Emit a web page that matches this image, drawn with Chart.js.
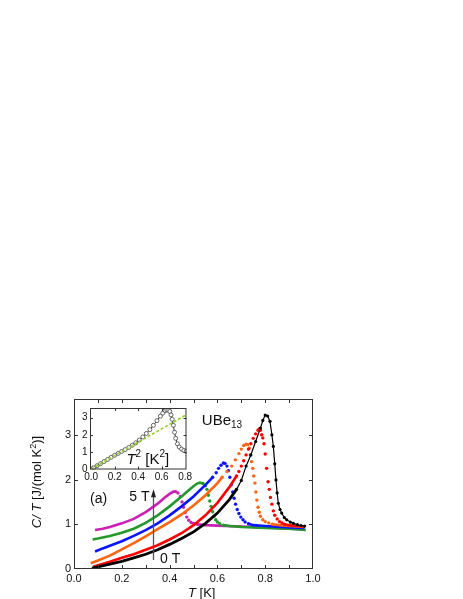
<!DOCTYPE html>
<html>
<head>
<meta charset="utf-8">
<script src="https://cdn.jsdelivr.net/npm/chart.js@4.4.0/dist/chart.umd.min.js"></script>
<style>
  html, body { margin: 0; padding: 0; background: #fff; }
  #wrap { position: relative; width: 463px; height: 599px; }
  #mainChart { position: absolute; left: 0; top: 0; }
  #insetChart { position: absolute; left: 60px; top: 398px; }
</style>
</head>
<body>
<div id="wrap">
  <canvas id="mainChart" width="463" height="599"></canvas>
  <canvas id="insetChart" width="140" height="95"></canvas>
</div>
<script>
// UBe13, C/T vs T for fields 0 T (black) ... 5 T (magenta)
var blackT = [0.075,0.1,0.15,0.2,0.25,0.3,0.35,0.4,0.45,0.5,0.55,0.6,0.65,0.68,0.7,0.72,0.74,0.76,0.78,0.79,0.8,0.81,0.82,0.828,0.834,0.84,0.845,0.85,0.855,0.862,0.869,0.88,0.89,0.905,0.918,0.935,0.95,0.965];
var blackC = [0.02,0.05,0.11,0.17,0.25,0.33,0.43,0.55,0.68,0.83,1.02,1.25,1.55,1.78,1.98,2.3,2.55,2.85,3.15,3.32,3.44,3.42,3.3,3.0,2.74,2.35,1.99,1.7,1.47,1.33,1.25,1.15,1.1,1.05,1.02,0.99,0.97,0.96];

var redT = [0.08,0.15,0.2,0.25,0.3,0.35,0.4,0.45,0.5,0.55,0.6,0.65,0.68,0.69,0.7,0.71,0.72,0.73,0.74,0.75,0.76,0.77,0.775,0.78,0.785,0.79,0.795,0.8,0.806,0.812,0.817,0.822,0.828,0.834,0.84,0.85,0.86,0.87,0.88,0.9,0.93,0.965];
var redC = [0.05,0.16,0.25,0.33,0.43,0.53,0.66,0.8,0.98,1.2,1.48,1.83,2.08,2.18,2.3,2.42,2.55,2.68,2.8,2.92,3.02,3.1,3.13,3.1,3.0,2.93,2.8,2.57,2.25,1.95,1.78,1.6,1.45,1.3,1.2,1.12,1.06,1.03,1.0,0.98,0.96,0.95];

var orangeT = [0.07,0.1,0.15,0.2,0.25,0.3,0.35,0.4,0.45,0.5,0.55,0.6,0.62,0.64,0.66,0.675,0.69,0.7,0.71,0.72,0.727,0.733,0.738,0.743,0.748,0.752,0.757,0.761,0.765,0.77,0.775,0.78,0.79,0.8,0.815,0.83,0.86,0.9,0.965];
var orangeC = [0.13,0.19,0.3,0.44,0.58,0.73,0.89,1.05,1.22,1.42,1.65,1.92,2.05,2.18,2.3,2.44,2.58,2.68,2.76,2.79,2.78,2.7,2.55,2.4,2.25,2.08,1.92,1.72,1.54,1.38,1.27,1.18,1.1,1.06,1.03,1.0,0.98,0.96,0.94];

var blueT = [0.088,0.12,0.15,0.2,0.25,0.3,0.35,0.4,0.45,0.5,0.55,0.58,0.595,0.605,0.615,0.625,0.632,0.64,0.646,0.652,0.658,0.664,0.67,0.676,0.683,0.69,0.698,0.707,0.716,0.73,0.75,0.8,0.9,0.965];
var blueC = [0.39,0.46,0.52,0.62,0.74,0.87,1.02,1.2,1.4,1.62,1.88,2.05,2.15,2.25,2.32,2.37,2.36,2.3,2.2,2.05,1.88,1.72,1.58,1.45,1.33,1.24,1.16,1.1,1.05,1.01,0.98,0.96,0.93,0.92];

var greenT = [0.078,0.1,0.15,0.2,0.25,0.3,0.35,0.4,0.45,0.48,0.5,0.515,0.527,0.54,0.55,0.556,0.562,0.568,0.574,0.58,0.586,0.593,0.6,0.61,0.625,0.65,0.7,0.8,0.9,0.97];
var greenC = [0.66,0.68,0.74,0.81,0.9,1.03,1.2,1.4,1.62,1.76,1.85,1.91,1.93,1.91,1.86,1.78,1.65,1.52,1.4,1.28,1.18,1.1,1.05,1.01,0.98,0.96,0.94,0.92,0.9,0.87];

var magentaT = [0.088,0.12,0.15,0.2,0.25,0.3,0.35,0.38,0.4,0.415,0.425,0.435,0.445,0.452,0.458,0.465,0.472,0.48,0.49,0.5,0.515,0.55,0.6,0.7,0.8,0.9,0.96];
var magentaC = [0.87,0.9,0.94,1.02,1.12,1.27,1.46,1.6,1.68,1.73,1.73,1.7,1.62,1.5,1.38,1.26,1.16,1.09,1.04,1.02,1.0,0.98,0.97,0.95,0.93,0.9,0.89];

// inset: C/T vs T^2 at 0 T, with the dashed linear fit
var insetT2 = [0.005,0.02,0.05,0.08,0.11,0.14,0.17,0.2,0.23,0.26,0.29,0.32,0.35,0.38,0.41,0.44,0.47,0.5,0.53,0.56,0.59,0.61,0.63,0.645,0.66,0.67,0.68,0.69,0.7,0.71,0.72,0.735,0.75,0.77,0.79,0.81];
var insetC = [0.03,0.1,0.22,0.34,0.46,0.58,0.7,0.82,0.93,1.04,1.15,1.27,1.4,1.54,1.7,1.88,2.08,2.3,2.55,2.82,3.08,3.25,3.4,3.44,3.42,3.35,3.15,2.9,2.55,2.15,1.8,1.48,1.3,1.18,1.1,1.05];
var fitT2 = [0, 0.8];
var fitC = [0.03, 3.12];

var xTicks = [0, 0.2, 0.4, 0.6, 0.8, 1.0];
var yTicks = [0, 1, 2, 3];
var insetXTicks = [0, 0.2, 0.4, 0.6, 0.8];
var insetYTicks = [0, 1, 2, 3];

var FONT = "'Liberation Sans', Arial, sans-serif";

function pts(xs, ys) {
  return xs.map(function (x, i) { return { x: x, y: ys[i] }; });
}

// line where the sweep is dense, bare dots through the transition
function series(ts, cs, color, dotFrom, dotTo, order) {
  return {
    data: pts(ts, cs),
    showLine: true,
    borderColor: color,
    backgroundColor: color,
    borderWidth: 2.6,
    pointBorderWidth: 0,
    pointRadius: function (c) {
      var x = c.parsed ? c.parsed.x : -1;
      return x >= dotFrom && x <= dotTo ? 1.7 : 0;
    },
    segment: {
      borderColor: function (c) {
        return c.p0.parsed.x >= dotFrom && c.p1.parsed.x <= dotTo ? 'rgba(0,0,0,0)' : color;
      }
    },
    order: order
  };
}

function rich(ctx, parts, x, y, align) {
  var w = 0;
  parts.forEach(function (p) { ctx.font = p.font; p.w = ctx.measureText(p.text).width; w += p.w; });
  var cx = align === 'center' ? x - w / 2 : (align === 'right' ? x - w : x);
  ctx.textAlign = 'left';
  parts.forEach(function (p) {
    ctx.font = p.font;
    ctx.fillText(p.text, cx, y + (p.dy || 0));
    cx += p.w;
  });
}

function f(size, italic) { return (italic ? 'italic ' : '') + size + 'px ' + FONT; }

// box and inward tick marks
var framePlugin = {
  id: 'frame',
  afterDatasetsDraw: function (chart, args, o) {
    var ctx = chart.ctx, a = chart.chartArea, xs = chart.scales.x, ys = chart.scales.y;
    ctx.save();
    ctx.strokeStyle = o.color;
    ctx.lineWidth = 1;
    ctx.strokeRect(a.left + 0.5, a.top + 0.5, a.right - a.left - 1, a.bottom - a.top - 1);
    ctx.beginPath();
    o.xMarks.forEach(function (v) {
      var px = Math.round(xs.getPixelForValue(v)) + 0.5;
      ctx.moveTo(px, a.bottom); ctx.lineTo(px, a.bottom - o.len);
      ctx.moveTo(px, a.top); ctx.lineTo(px, a.top + o.len);
    });
    o.yMarks.forEach(function (v) {
      var py = Math.round(ys.getPixelForValue(v)) + 0.5;
      ctx.moveTo(a.left, py); ctx.lineTo(a.left + o.len, py);
      ctx.moveTo(a.right, py); ctx.lineTo(a.right - o.len, py);
    });
    ctx.stroke();
    ctx.restore();
  }
};

var mainText = {
  id: 'mainText',
  afterDraw: function (chart) {
    var ctx = chart.ctx, a = chart.chartArea, xs = chart.scales.x, ys = chart.scales.y;
    ctx.save();
    ctx.fillStyle = '#111';
    ctx.textBaseline = 'alphabetic';
    // axis titles
    rich(ctx, [{ text: 'T', font: f(13, true) }, { text: ' [K]', font: f(13) }], 188, 597, 'left');
    ctx.save();
    ctx.translate(41, (a.top + a.bottom) / 2 - 2);
    ctx.rotate(-Math.PI / 2);
    rich(ctx, [
      { text: 'C/ T', font: f(13, true) },
      { text: ' [J/(mol K', font: f(13) },
      { text: '2', font: f(9), dy: -5 },
      { text: ')]', font: f(13) }
    ], 0, 0, 'center');
    ctx.restore();
    // annotations
    rich(ctx, [{ text: 'UBe', font: f(15) }, { text: '13', font: f(10), dy: 3 }],
      xs.getPixelForValue(0.535), ys.getPixelForValue(3.22), 'left');
    rich(ctx, [{ text: '(a)', font: f(14) }], xs.getPixelForValue(0.067), ys.getPixelForValue(1.48), 'left');
    rich(ctx, [{ text: '5 T', font: f(14) }], xs.getPixelForValue(0.316), ys.getPixelForValue(1.51), 'right');
    rich(ctx, [{ text: '0 T', font: f(14) }], xs.getPixelForValue(0.36), ys.getPixelForValue(0.13), 'left');
    // field arrow
    var ax = Math.round(xs.getPixelForValue(0.332)) + 0.5;
    var ay0 = ys.getPixelForValue(0.2), ay1 = ys.getPixelForValue(1.78);
    ctx.strokeStyle = '#555';
    ctx.lineWidth = 1.3;
    ctx.beginPath(); ctx.moveTo(ax, ay0); ctx.lineTo(ax, ay1 + 5); ctx.stroke();
    ctx.fillStyle = '#222';
    ctx.beginPath(); ctx.moveTo(ax, ay1); ctx.lineTo(ax - 2.5, ay1 + 8); ctx.lineTo(ax + 2.5, ay1 + 8); ctx.closePath(); ctx.fill();
    ctx.restore();
  }
};

var black = {
  data: pts(blackT, blackC),
  showLine: true,
  borderColor: '#000',
  backgroundColor: '#000',
  pointBorderWidth: 0,
  pointRadius: function (c) { var x = c.parsed ? c.parsed.x : 0; return x >= 0.68 ? 1.6 : 0; },
  segment: { borderWidth: function (c) { return c.p0.parsed.x < 0.68 ? 2.8 : 1.2; } },
  order: 0
};

new Chart(document.getElementById('mainChart'), {
  type: 'scatter',
  data: {
    datasets: [
      black,
      series(redT, redC, '#ff0000', 0.68, 0.88, 1),
      series(orangeT, orangeC, '#ff6410', 0.62, 0.83, 2),
      series(blueT, blueC, '#0a14ff', 0.58, 0.73, 3),
      series(greenT, greenC, '#22992a', 0.54, 0.625, 4),
      series(magentaT, magentaC, '#cc1fb8', 0.425, 0.515, 5)
    ]
  },
  options: {
    responsive: false,
    animation: false,
    devicePixelRatio: 1,
    layout: { padding: { left: 0, top: 399, right: 150, bottom: 0 } },
    plugins: {
      legend: { display: false },
      tooltip: { enabled: false },
      frame: { color: '#333', len: 4, xMarks: [0.1, 0.2, 0.3, 0.4, 0.5, 0.6, 0.7, 0.8, 0.9], yMarks: [1, 2, 3] }
    },
    scales: {
      x: {
        type: 'linear', min: 0, max: 1,
        grid: { display: false, drawTicks: false },
        border: { display: false },
        afterFit: function (s) { s.height = 30; },
        afterBuildTicks: function (s) { s.ticks = xTicks.map(function (v) { return { value: v }; }); },
        ticks: { padding: 3, color: '#111', autoSkip: false, maxRotation: 0, font: { family: FONT, size: 11 },
          callback: function (v) { return v.toFixed(1); } }
      },
      y: {
        type: 'linear', min: 0, max: 3.8,
        grid: { display: false, drawTicks: false },
        border: { display: false },
        afterFit: function (s) { s.width = 74; },
        afterBuildTicks: function (s) { s.ticks = yTicks.map(function (v) { return { value: v }; }); },
        ticks: { padding: 3, color: '#111', font: { family: FONT, size: 11 },
          callback: function (v) { return String(v); } }
      }
    }
  },
  plugins: [framePlugin, mainText]
});

var insetText = {
  id: 'insetText',
  afterDraw: function (chart) {
    var ctx = chart.ctx, xs = chart.scales.x, ys = chart.scales.y;
    ctx.save();
    ctx.fillStyle = '#111';
    ctx.textBaseline = 'alphabetic';
    rich(ctx, [
      { text: 'T', font: f(15, true) },
      { text: '2', font: f(10), dy: -7 },
      { text: ' [K', font: f(15) },
      { text: '2', font: f(10), dy: -7 },
      { text: ']', font: f(15) }
    ], xs.getPixelForValue(0.3), ys.getPixelForValue(0.29), 'left');
    ctx.restore();
  }
};

new Chart(document.getElementById('insetChart'), {
  type: 'scatter',
  data: {
    datasets: [
      { data: pts(fitT2, fitC), showLine: true, borderColor: '#8fd21a', borderWidth: 1.6, borderDash: [3, 2],
        pointRadius: 0, order: 0 },
      { data: pts(insetT2, insetC), showLine: true, borderColor: '#333', borderWidth: 1,
        pointRadius: 2, pointBackgroundColor: '#fff', pointBorderColor: '#444', pointBorderWidth: 0.8, order: 1 }
    ]
  },
  options: {
    responsive: false,
    animation: false,
    devicePixelRatio: 1,
    layout: { padding: { left: 0, top: 10, right: 13.5, bottom: 0 } },
    plugins: {
      legend: { display: false },
      tooltip: { enabled: false },
      frame: { color: '#333', len: 3, xMarks: [0.2, 0.4, 0.6], yMarks: [1, 2, 3] }
    },
    scales: {
      x: {
        type: 'linear', min: -0.01, max: 0.812,
        grid: { display: false, drawTicks: false },
        border: { display: false },
        afterFit: function (s) { s.height = 23.5; },
        afterBuildTicks: function (s) { s.ticks = insetXTicks.map(function (v) { return { value: v }; }); },
        ticks: { padding: 2, color: '#111', autoSkip: false, maxRotation: 0, font: { family: FONT, size: 10 },
          callback: function (v) { return v.toFixed(1); } }
      },
      y: {
        type: 'linear', min: 0, max: 3.55,
        grid: { display: false, drawTicks: false },
        border: { display: false },
        afterFit: function (s) { s.width = 30; },
        afterBuildTicks: function (s) { s.ticks = insetYTicks.map(function (v) { return { value: v }; }); },
        ticks: { padding: 2.5, color: '#111', font: { family: FONT, size: 10 },
          callback: function (v) { return String(v); } }
      }
    }
  },
  plugins: [framePlugin, insetText]
});
</script>
</body>
</html>
